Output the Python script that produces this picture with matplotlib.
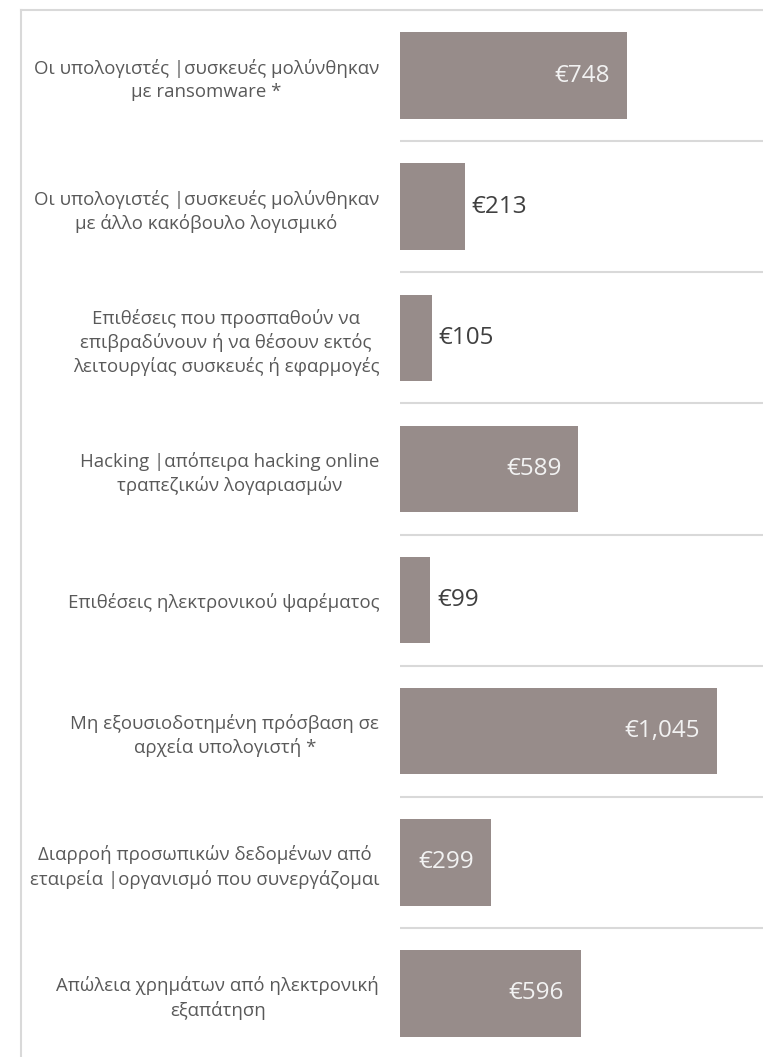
import matplotlib.pyplot as plt
from matplotlib.lines import Line2D

# κατηγορίες και μέσο κόστος ανά περιστατικό (€)
categories = [
    'Οι υπολογιστές |συσκευές μολύνθηκαν\nμε ransomware *',
    'Οι υπολογιστές |συσκευές μολύνθηκαν\nμε άλλο κακόβουλο λογισμικό',
    'Επιθέσεις που προσπαθούν να\nεπιβραδύνουν ή να θέσουν εκτός\nλειτουργίας συσκευές ή εφαρμογές',
    'Hacking |απόπειρα hacking online\nτραπεζικών λογαριασμών',
    'Επιθέσεις ηλεκτρονικού ψαρέματος',
    'Μη εξουσιοδοτημένη πρόσβαση σε\nαρχεία υπολογιστή *',
    'Διαρροή προσωπικών δεδομένων από\nεταιρεία |οργανισμό που συνεργάζομαι',
    'Απώλεια χρημάτων από ηλεκτρονική\nεξαπάτηση',
]
values = [748, 213, 105, 589, 99, 1045, 299, 596]
value_labels = ['€748', '€213', '€105', '€589', '€99', '€1,045', '€299', '€596']

bar_color = '#978c8a'
grid_color = '#d9d9d9'

plt.rcParams['font.family'] = ['Open Sans', 'DejaVu Sans']

W, H = 763, 1057
fig = plt.figure(figsize=(W / 100, H / 100), dpi=100)
ax = fig.add_axes([400 / W, -2 / H, 363 / W, 1049 / H])

y = list(range(len(values)))
bars = ax.barh(y, values, height=0.66, color=bar_color, zorder=2)

ax.set_xlim(0, 1198)
ax.set_ylim(len(values) - 0.5, -0.5)

# γραμμές ανάμεσα στις κατηγορίες
ax.set_yticks([i - 0.5 for i in range(len(values) + 1)], minor=True)
ax.grid(True, which='minor', axis='y', color=grid_color, linewidth=1.5)
ax.set_yticks(y)
ax.set_yticklabels(categories, fontsize=13.4, color='#595959', linespacing=1.35)
for lbl in ax.get_yticklabels():
    lbl.set_multialignment('center')
ax.tick_params(axis='y', which='both', length=0, pad=15)
ax.set_xticks([])
for s in ax.spines.values():
    s.set_visible(False)

# ετικέτες τιμών: μέσα στη μπάρα για μεγάλες τιμές, έξω για μικρές
for b, v, t in zip(bars, values, value_labels):
    yc = b.get_y() + b.get_height() / 2
    if v >= 250:
        ax.annotate(t, (v, yc), xytext=(-12, 0), textcoords='offset points',
                    ha='right', va='center', fontsize=17.5, color='#f2f2f2')
    else:
        ax.annotate(t, (v, yc), xytext=(5, 0), textcoords='offset points',
                    ha='left', va='center', fontsize=17.5, color='#404040')

# εξωτερικό πλαίσιο (πάνω και αριστερά)
fig.add_artist(Line2D([21 / W, 1], [1 - 10 / H, 1 - 10 / H], color=grid_color,
                      linewidth=1.5, transform=fig.transFigure))
fig.add_artist(Line2D([21 / W, 21 / W], [0, 1 - 10 / H], color=grid_color,
                      linewidth=1.5, transform=fig.transFigure))

fig.savefig('out.png', dpi=100)
